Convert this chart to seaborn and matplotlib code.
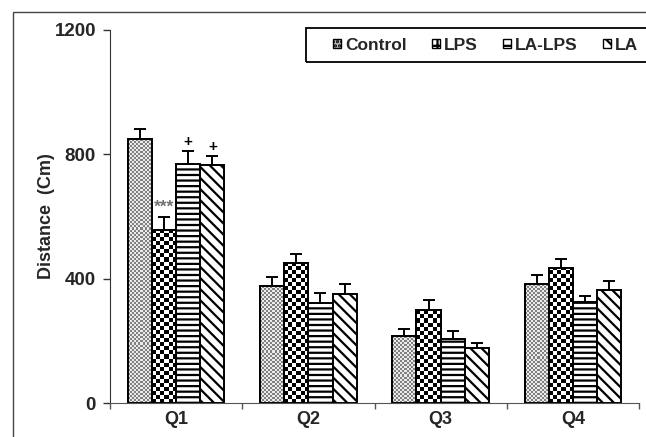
import matplotlib
matplotlib.use("Agg")
import matplotlib.pyplot as plt
from matplotlib.patches import Patch, Rectangle
import seaborn as sns
import pandas as pd
import numpy as np

# values
quadrants = ["Q1", "Q2", "Q3", "Q4"]
groups = ["Control", "LPS", "LA-LPS", "LA"]
control = [850, 378, 216, 384]
lps = [557, 450, 299, 434]
la_lps = [770, 322, 207, 325]
la = [767, 351, 177, 365]
control_se = [32, 28, 22, 29]
lps_se = [42, 29, 32, 30]
la_lps_se = [42, 33, 26, 20]
la_se = [28, 32, 16, 28]
q1_marks = ["", "***", "+", "+"]

sns.set_style("white")
plt.rcParams["font.family"] = ["Liberation Sans", "DejaVu Sans"]
plt.rcParams["font.weight"] = "bold"
plt.rcParams["hatch.linewidth"] = 1.6

df = pd.DataFrame({
    "quadrant": quadrants * 4,
    "group": np.repeat(groups, 4),
    "distance": control + lps + la_lps + la,
    "se": control_se + lps_se + la_lps_se + la_se,
})

fig = plt.figure(figsize=(6.46, 4.37), dpi=100)
ax = fig.add_axes([110/646, 1 - 403/437, 529/646, 373/437])

sns.barplot(data=df, x="quadrant", y="distance", hue="group", hue_order=groups,
            order=quadrants, width=0.73, gap=0, errorbar=None, legend=False,
            palette=["white"] * 4, edgecolor="black", linewidth=1.4, ax=ax)

ax.set_ylim(0, 1200)
ax.set_xlim(-0.5, 3.5)

hatches = ["", "", "---", "\\\\\\"]
for cont, h in zip(ax.containers, hatches):
    for bar in cont:
        bar.set_hatch(h)


def fill_pattern(bar, ncols, lo, hi):
    # texture clipped to the bar, cells as square pixels
    x0, y0, w, h = bar.get_x(), bar.get_y(), bar.get_width(), bar.get_height()
    px0 = ax.transData.transform((x0, 0))
    px1 = ax.transData.transform((x0 + w, 1))
    cell_px = (px1[0] - px0[0]) / ncols
    cell_d = cell_px / (px1[1] - px0[1])
    nrows = int(np.ceil(h / cell_d))
    board = np.where(np.add.outer(np.arange(nrows), np.arange(ncols)) % 2, hi, lo)
    im = ax.imshow(board, cmap="gray", vmin=0, vmax=1, origin="lower", aspect="auto",
                   interpolation="nearest",
                   extent=(x0, x0 + w, y0, y0 + nrows * cell_d),
                   zorder=bar.get_zorder() + 0.1)
    im.set_clip_path(bar)
    ax.add_patch(Rectangle((x0, y0), w, h, fill=False, ec="black", lw=1.4,
                           zorder=bar.get_zorder() + 0.2))


fig.canvas.draw()
for bar in ax.containers[0]:
    fill_pattern(bar, 12, 0.5, 0.92)
for bar in ax.containers[1]:
    fill_pattern(bar, 6, 0.0, 1.0)

# one-sided error bars
for cont, g in zip(ax.containers, groups):
    se = df.loc[df.group == g, "se"].values
    for bar, e in zip(cont, se):
        xc = bar.get_x() + bar.get_width() / 2
        top = bar.get_height()
        ax.errorbar(xc, top, yerr=[[0], [e]], fmt="none", ecolor="black",
                    elinewidth=1.4, capsize=4, capthick=1.4, zorder=5)

# significance marks on Q1
for cont, g, m in zip(ax.containers, groups, q1_marks):
    if not m:
        continue
    bar = cont[0]
    xc = bar.get_x() + bar.get_width() / 2
    e = df.loc[(df.group == g) & (df.quadrant == "Q1"), "se"].values[0]
    if m == "***":
        ax.text(xc, bar.get_height() + e + 30, m, ha="center", va="center",
                fontsize=12.5, color="#707070", fontweight="bold")
    else:
        ax.text(xc, bar.get_height() + e + 27, m, ha="center", va="center",
                fontsize=11, color="black", fontweight="bold")

ax.set_yticks([0, 400, 800, 1200])
ax.set_xticks([-0.5, 0.5, 1.5, 2.5, 3.5], minor=True)
ax.tick_params(axis="x", which="major", length=0, labelsize=13, pad=6)
ax.tick_params(axis="x", which="minor", length=4, width=1, color="#555555", bottom=True)
ax.tick_params(axis="y", length=5, width=1, color="#333333", labelsize=13.5, left=True, pad=5)
for lab in ax.get_xticklabels() + ax.get_yticklabels():
    lab.set_fontweight("bold")
ax.set_xlabel("")
ax.set_ylabel("Distance  (Cm)", fontsize=13, fontweight="bold", labelpad=0)
sns.despine(ax=ax)
ax.spines["left"].set_color("#333333")
ax.spines["bottom"].set_color("#555555")

# legend box runs off the right edge like in the original
fig.patches.append(Rectangle((306/646, 1 - 62/437), 0.6, 34/437, fill=False,
                             ec="black", lw=1.3, transform=fig.transFigure))
handles = [Patch(facecolor=fc, edgecolor="black", hatch=h, lw=1)
           for h, fc in zip(["....", "++", "--", "\\\\"], ["#bbbbbb", "white", "white", "white"])]
leg = fig.legend(handles, groups, loc="center left", bbox_to_anchor=(333/646, 1 - 45/437),
                 ncol=4, frameon=False, borderpad=0, borderaxespad=0,
                 handlelength=0.45, handleheight=0.45, handletextpad=0.25,
                 columnspacing=1.45, prop={"weight": "bold", "size": 12.5})

# outer frame of the original figure
fig.patches.append(Rectangle((13/646, -0.1), 1.2, 1.1 - 12/437, fill=False,
                             ec="#444444", lw=1, transform=fig.transFigure))

fig.savefig("out.png", dpi=100)
